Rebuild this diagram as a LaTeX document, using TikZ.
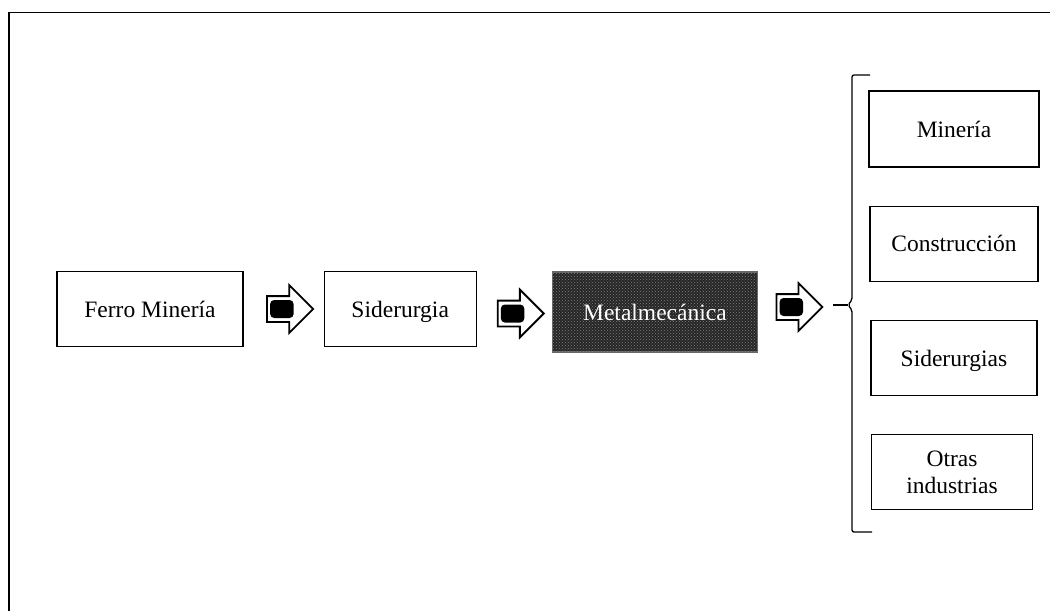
\documentclass[tikz,border=0pt]{standalone}
\usepackage{fontspec}
\setmainfont{Liberation Serif}
\usetikzlibrary{positioning, shapes.arrows, calc, patterns}

\begin{document}
\begin{tikzpicture}[
    x=1pt, y=-1pt,
    box/.style={rectangle, draw=black, line width=1.2pt, minimum height=75pt, align=center, font=\fontsize{23.5}{27}\selectfont},
    darkbox/.style={box, draw=black!60, fill=black!85, text=white, minimum height=80pt,
        postaction={pattern=crosshatch dots, pattern color=black!50}},
    blockarrow/.style={single arrow, draw=black, line width=1.8pt, fill=white, minimum height=46pt, minimum width=46pt, inner sep=12pt, single arrow head extend=11pt},
    arrowcore/.style={fill=black, rounded corners=4pt}
]
\useasboundingbox (0,0) rectangle (1050,611);

% Frame
\draw[line width=1.4pt] (9,611) -- (9,12);
\draw[line width=0.9pt] (9,12) -- (1050,12);

% Chain
\node[box, minimum width=186pt]   (ferro)  at (150,309)               {Ferro Minería};
\node[box, minimum width=152pt, text depth=0pt] (sider) [right=80pt of ferro] {Siderurgia};
\node[darkbox, minimum width=205pt] (metal) [right=75pt of sider, yshift=-3pt] {Metalmecánica};

% Uses
\node[box, minimum width=170pt, minimum height=76pt] (mineria) at (954,129) {Minería};
\node[box, minimum width=168pt]   (constr) [below=38pt of mineria]   {Construcción};
\node[box, minimum width=166pt, text depth=0pt] (siders) [below=38pt of constr] {Siderurgias};
\node[box, minimum width=161pt]   (otras)  [below=38pt of siders, xshift=-2pt] {Otras\\industrias};

% Block arrows
\node[blockarrow] (a1) at ($(ferro.east)!0.5!(sider.west)$) {};
\node[blockarrow] (a2) at ($(sider.east)!0.5!(metal.west)+(0,3)$) {};
\node[blockarrow] (a3) at (793,307) {};
\foreach \a in {a1, a2, a3}
    \fill[arrowcore] ($(\a.west)+(4pt,-9pt)$) rectangle ($(\a.center)+(10pt,9pt)$);

% Bracket
\draw[line width=1.3pt, rounded corners=2pt] (870,75) -| (852,300) -- (848,305) -- (852,310) |- (872,532);
\draw[line width=1.3pt] (833,305) -- (848,305);

\end{tikzpicture}
\end{document}
